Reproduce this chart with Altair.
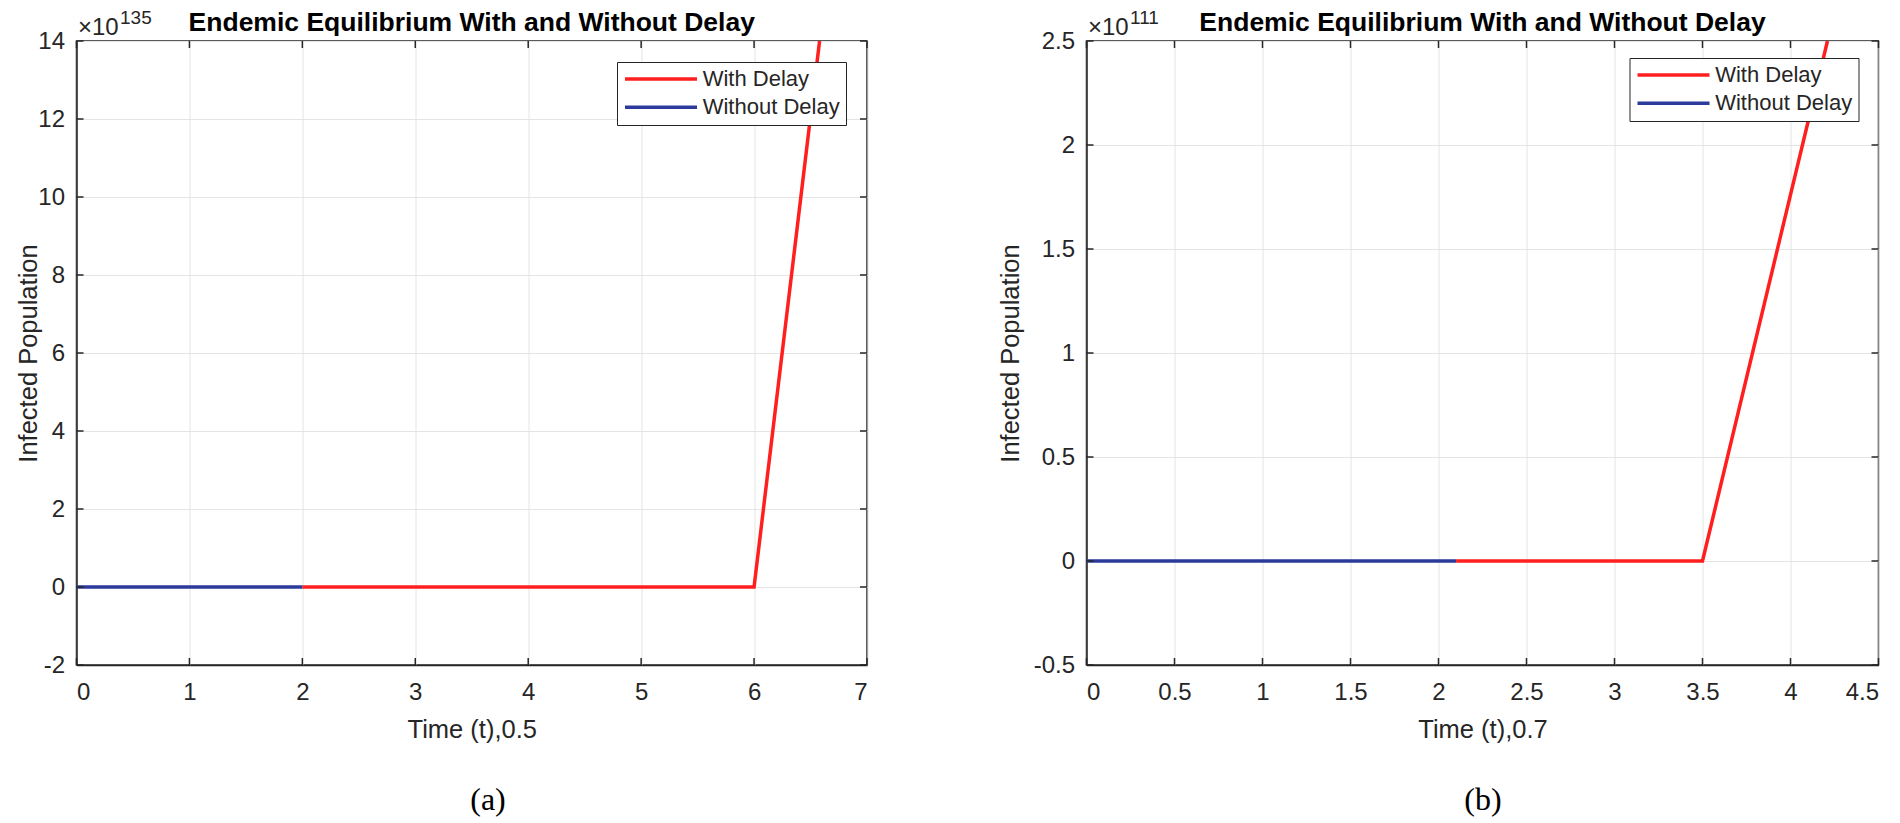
import altair as alt
import pandas as pd

SERIES = ["With Delay", "Without Delay"]
COLORS = ["#ff1f1f", "#2b3a9b"]

# ---- panel (a) ----
a_with_t = [2.0, 6.0, 6.58]
a_with_v = [0.0, 0.0, 14.0]
a_without_t = [0.0, 2.0]
a_without_v = [0.0, 0.0]
a_xticks = [0, 1, 2, 3, 4, 5, 6, 7]
a_yticks = [-2, 0, 2, 4, 6, 8, 10, 12, 14]

# ---- panel (b) ----
b_with_t = [2.1, 3.5, 4.21]
b_with_v = [0.0, 0.0, 2.5]
b_without_t = [0.0, 2.1]
b_without_v = [0.0, 0.0]
b_xticks = [0, 0.5, 1, 1.5, 2, 2.5, 3, 3.5, 4, 4.5]
b_yticks = [-0.5, 0, 0.5, 1, 1.5, 2, 2.5]

TITLE = "Endemic Equilibrium With and Without Delay"
Y_TITLE = "Infected Population"
X_TITLES = ["Time (t),0.5", "Time (t),0.7"]
EXPONENTS = ["135", "111"]
CAPTIONS = ["(a)", "(b)"]

FONT = "Liberation Sans"
DARK = "#262626"
H = 624


def text_layer(txt, x, y, size, weight="normal", font=FONT, align="left", color=DARK):
    return alt.Chart(pd.DataFrame({"s": [txt]})).mark_text(
        align=align, baseline="alphabetic", fontSize=size, fontWeight=weight,
        font=font, color=color
    ).encode(x=alt.value(x), y=alt.value(y), text="s:N")


def panel(with_t, with_v, wo_t, wo_v, xticks, yticks, xtitle, exponent, caption,
          W, ytitle_x, legend_x, legend_y, cap_x):
    df = pd.DataFrame({
        "t": with_t + wo_t,
        "v": with_v + wo_v,
        "series": [SERIES[0]] * len(with_t) + [SERIES[1]] * len(wo_t),
    })
    xs = alt.Scale(domain=[xticks[0], xticks[-1]], nice=False, zero=False)
    ys = alt.Scale(domain=[yticks[0], yticks[-1]], nice=False, zero=False)
    xaxis = alt.Axis(values=xticks, title=xtitle, labelExpr="'' + datum.value",
                     titleY=72, titleBaseline="alphabetic", labelPadding=15.5)
    yaxis = alt.Axis(values=yticks, title=Y_TITLE, labelExpr="'' + datum.value",
                     titleX=ytitle_x, titleBaseline="alphabetic", labelPadding=12)

    line = alt.Chart(df).mark_line(strokeWidth=3.5, clip=True).encode(
        x=alt.X("t:Q", scale=xs, axis=xaxis),
        y=alt.Y("v:Q", scale=ys, axis=yaxis),
        color=alt.Color("series:N", scale=alt.Scale(domain=SERIES, range=COLORS),
                        legend=alt.Legend(
                            orient="none", legendX=legend_x, legendY=legend_y,
                            title=None, fillColor="white", strokeColor=DARK,
                            padding=6, rowPadding=6.3, clipHeight=22,
                            symbolType="stroke", symbolSize=5184,
                            symbolStrokeWidth=3.5, labelFontSize=22,
                            labelFont=FONT, labelColor=DARK, labelOffset=3.7)),
    )

    xt = pd.DataFrame({"t": xticks})
    yt = pd.DataFrame({"v": yticks})
    tick_bottom = alt.Chart(xt).mark_rule(color=DARK, strokeWidth=1.5).encode(
        x=alt.X("t:Q", scale=xs, axis=xaxis), y=alt.value(H), y2=alt.value(H - 7))
    tick_top = alt.Chart(xt).mark_rule(color=DARK, strokeWidth=1.5).encode(
        x=alt.X("t:Q", scale=xs, axis=xaxis), y=alt.value(0), y2=alt.value(7))
    tick_left = alt.Chart(yt).mark_rule(color=DARK, strokeWidth=1.5).encode(
        y=alt.Y("v:Q", scale=ys, axis=yaxis), x=alt.value(0), x2=alt.value(7))
    tick_right = alt.Chart(yt).mark_rule(color=DARK, strokeWidth=1.5).encode(
        y=alt.Y("v:Q", scale=ys, axis=yaxis), x=alt.value(W), x2=alt.value(W - 7))

    title = text_layer(TITLE, W / 2, -10.5, 26.5, weight="bold", align="center",
                       color="#000000")
    times10 = text_layer("\u00d710", 1.5, -6.5, 24)
    expo = text_layer(exponent, 43.5, -17, 19)
    cap = text_layer(caption, cap_x, 769, 32, font="Liberation Serif", align="center",
                     color="#000000")

    return alt.layer(line, tick_bottom, tick_top, tick_left, tick_right,
                     title, times10, expo, cap).properties(width=W, height=H)


pa = panel(a_with_t, a_with_v, a_without_t, a_without_v, a_xticks, a_yticks,
           X_TITLES[0], EXPONENTS[0], CAPTIONS[0], 790.5, -40, 540.5, 21, 411.5)
pb = panel(b_with_t, b_with_v, b_without_t, b_without_v, b_xticks, b_yticks,
           X_TITLES[1], EXPONENTS[1], CAPTIONS[1], 792, -68.3, 543, 17, 396.5)

chart = alt.hconcat(pa, pb, spacing=219, bounds="flush").resolve_scale(
    color="independent", x="independent", y="independent"
).resolve_legend(color="independent").properties(
    padding={"left": 7.5, "top": 0, "right": 0, "bottom": 0}
).configure_axis(
    labelFont=FONT, labelFontSize=24, labelColor=DARK,
    titleFont=FONT, titleFontSize=25.5, titleFontWeight="normal", titleColor=DARK,
    grid=True, gridColor="#e4e4e4", gridWidth=1,
    domainColor=DARK, domainWidth=1.5, ticks=False,
).configure_view(stroke=DARK, strokeWidth=1.5)

chart.save("out.html", embed_options={"renderer": "svg", "actions": False})
